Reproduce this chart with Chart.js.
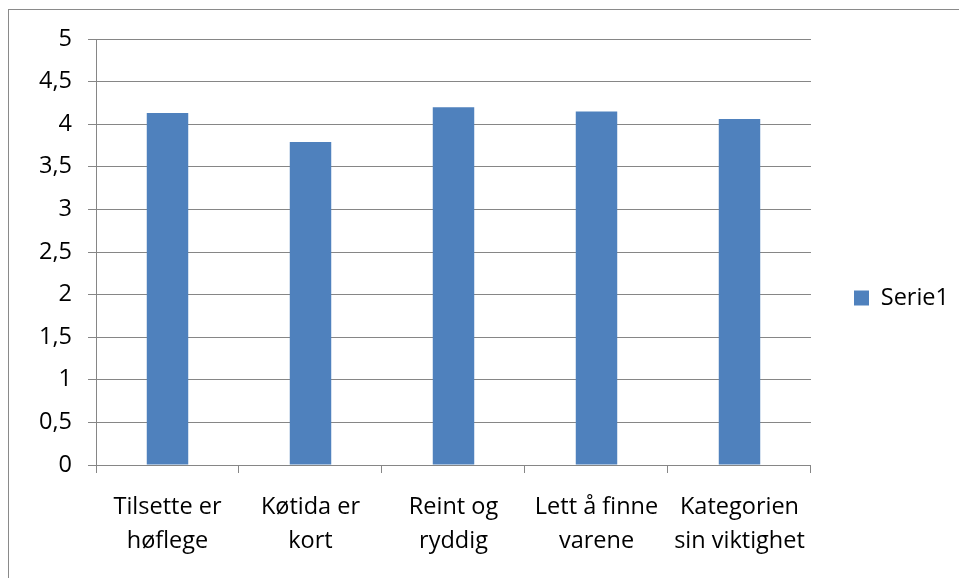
<!DOCTYPE html>
<html>
<head>
<meta charset="utf-8">
<script src="https://cdn.jsdelivr.net/npm/chart.js@4"></script>
<style>
  html, body { margin: 0; padding: 0; overflow: hidden; background: #fff; }
  #frame { position: absolute; left: 8px; top: 9px; width: 1000px; height: 600px;
           border-left: 1px solid #8a8a8a; border-top: 1px solid #8a8a8a; }
  #wrap { position: absolute; left: 0; top: 0; width: 959px; height: 578px; }
</style>
</head>
<body>
<div id="frame"></div>
<div id="wrap"><canvas id="chart"></canvas></div>
<script>
// data
const categories = [
  ['Tilsette er', 'høflege'],
  ['Køtida er', 'kort'],
  ['Reint og', 'ryddig'],
  ['Lett å finne', 'varene'],
  ['Kategorien', 'sin viktighet']
];
const serie1 = [4.13, 3.79, 4.20, 4.15, 4.06];
const yMin = 0;
const yMax = 5;
const yStep = 0.5;

const GRID = '#868686';
const FONT = { family: 'Open Sans', size: 23.5 };

document.addEventListener('DOMContentLoaded', function () {
  new Chart(document.getElementById('chart'), {
    type: 'bar',
    data: {
      labels: categories,
      datasets: [{
        label: 'Serie1',
        data: serie1,
        backgroundColor: '#4F81BD',
        borderWidth: 0,
        barPercentage: 0.29,
        categoryPercentage: 1
      }]
    },
    options: {
      responsive: true,
      maintainAspectRatio: false,
      animation: false,
      layout: { padding: { top: 39, bottom: 21, left: 0, right: 0 } },
      plugins: {
        tooltip: { enabled: false },
        legend: {
          position: 'right',
          labels: {
            boxWidth: 15,
            boxHeight: 15,
            padding: 43,
            color: '#000',
            font: FONT
          }
        }
      },
      scales: {
        x: {
          grid: { drawOnChartArea: false, drawTicks: true, tickLength: 8, color: GRID, offset: true },
          border: { color: GRID },
          ticks: {
            color: '#000',
            font: { family: 'Open Sans', size: 23.5, lineHeight: 34 / 23.5 },
            padding: 17,
            maxRotation: 0,
            autoSkip: false
          },
          afterFit: function (s) { s.height = 92; }
        },
        y: {
          min: yMin,
          max: yMax,
          grid: { color: GRID, tickLength: 8 },
          border: { color: GRID },
          ticks: {
            stepSize: yStep,
            color: '#000',
            font: FONT,
            padding: 16,
            callback: function (v) { return String(v).replace('.', ','); }
          },
          afterFit: function (s) { s.width = 96; }
        }
      }
    }
  });
});
</script>
</body>
</html>
